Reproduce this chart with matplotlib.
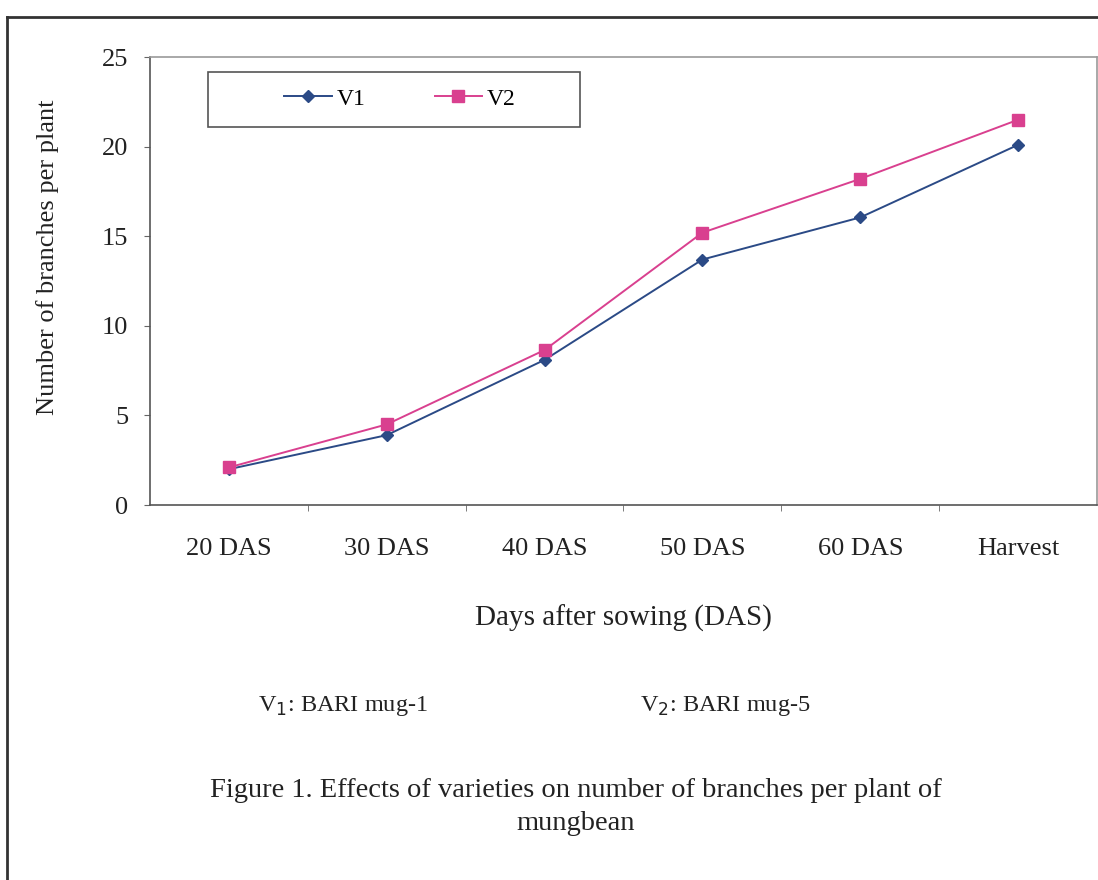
import matplotlib.pyplot as plt
from matplotlib.lines import Line2D
from matplotlib.patches import Rectangle

stages = ['20 DAS', '30 DAS', '40 DAS', '50 DAS', '60 DAS', 'Harvest']
v1 = [2.0, 3.9, 8.1, 13.7, 16.05, 20.1]
v2 = [2.1, 4.5, 8.65, 15.2, 18.2, 21.5]
y_ticks = [0, 5, 10, 15, 20, 25]

plt.rcParams['font.family'] = ['Liberation Serif', 'DejaVu Serif']
ink = '#222222'

fig = plt.figure(figsize=(10.98, 8.8), dpi=100)
ax = fig.add_axes([0.1366, 0.4261, 0.8625, 0.5091])

xs = range(len(stages))
ax.plot(xs, v1, color='#2b4a86', lw=1.4, marker='D', ms=6.5, label='V1')
ax.plot(xs, v2, color='#d9408f', lw=1.4, marker='s', ms=8, label='V2')

ax.set_xlim(-0.5, 5.5)
ax.set_ylim(0, 25)
ax.set_yticks(y_ticks)
ax.set_xticks(list(xs))
ax.set_xticklabels(stages)
ax.set_xticks([i + 0.5 for i in range(5)], minor=True)
ax.tick_params(axis='x', which='major', length=0, pad=24, labelsize=19, labelcolor=ink)
ax.tick_params(axis='x', which='minor', length=4.5, color='#666666', direction='out')
ax.tick_params(axis='y', length=4.5, color='#666666', direction='out', labelsize=19,
               labelcolor=ink, pad=11)

for s in ['left', 'bottom']:
    ax.spines[s].set_color('#555555')
    ax.spines[s].set_linewidth(1.2)
for s in ['top', 'right']:
    ax.spines[s].set_color('#9a9a9a')
    ax.spines[s].set_linewidth(1.2)

ax.set_xlabel('Days after sowing (DAS)', fontsize=21, color=ink, labelpad=32)
ax.set_ylabel('Number of branches per plant', fontsize=19, color=ink)
ax.yaxis.set_label_coords(-0.096, 0.554)

# legend box
fig.patches.append(Rectangle((208 / 1098, 1 - 127 / 880), 372 / 1098, 55 / 880,
                             transform=fig.transFigure, fill=False,
                             edgecolor='#555555', lw=1.2))
ax.legend(loc='center', bbox_to_anchor=(400 / 1098, 1 - 99 / 880),
          bbox_transform=fig.transFigure, ncol=2, frameon=False, fontsize=17,
          handlelength=2.0, handletextpad=0.2, columnspacing=2.95)

# outer frame
fig.add_artist(Line2D([7 / 1098, 7 / 1098], [0, 1 - 17 / 880], color='#333333', lw=2))
fig.add_artist(Line2D([7 / 1098, 1], [1 - 17 / 880, 1 - 17 / 880], color='#333333', lw=2))

fig.text(258 / 1098, 1 - 706 / 880, r'V$_1$: BARI mug-1', fontsize=17.5, color=ink, va='center')
fig.text(640 / 1098, 1 - 706 / 880, r'V$_2$: BARI mug-5', fontsize=17.5, color=ink, va='center')
fig.text(576 / 1098, 1 - 790 / 880, 'Figure 1. Effects of varieties on number of branches per plant of',
         fontsize=20.5, color=ink, ha='center', va='center')
fig.text(576 / 1098, 1 - 823 / 880, 'mungbean', fontsize=20.5, color=ink, ha='center', va='center')

fig.savefig('out.png', dpi=100, facecolor='white')
